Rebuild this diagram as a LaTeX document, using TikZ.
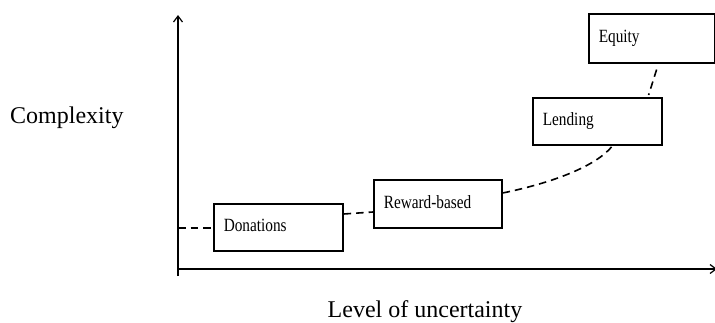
\documentclass[tikz,border=0pt]{standalone}
\usepackage{fontspec}
\setmainfont{Liberation Serif}
\usetikzlibrary{arrows.meta}
\newcommand{\tallbox}[1]{\scalebox{1}[1.22]{#1}}
\begin{document}
\begin{tikzpicture}[x=1pt,y=1pt,
  axis/.style={line width=1.4pt, -{Straight Barb[length=6pt,width=9pt,line width=1.2pt]}},
  stagebox/.style={draw, line width=1.6pt, anchor=north west, minimum height=47pt,
    text width=#1-20pt, minimum width=#1, inner xsep=10pt, align=left,
    font=\fontsize{15.3}{17}\selectfont},
  link/.style={line width=1.6pt, dash pattern=on 7.5pt off 5pt},
  bigtext/.style={font=\fontsize{24}{28}\selectfont, inner sep=0pt}]
\useasboundingbox (0,0) rectangle (715,-322);
% axes
\coordinate (origin) at (178,-276);
\coordinate (ytop) at (178,-15);
\coordinate (xleft) at (177,-269);
\coordinate (xright) at (717,-269);
\draw[axis] (origin) -- (ytop);
\draw[axis] (xleft) -- (xright);
% boxes
\node[stagebox=129pt, minimum height=47pt] (don) at (213,-203) {\tallbox{Donations}\vphantom{Rg}};
\node[stagebox=128pt, minimum height=48pt] (rew) at (373,-179) {\tallbox{Reward-based}\vphantom{g}\\[6pt]};
\node[stagebox=129pt, minimum height=47pt] (len) at (532,-97) {\tallbox{Lending}\\[4pt]};
\node[stagebox=126pt, minimum height=49pt] (equ) at (588,-13) {\tallbox{Equity}\\[8pt]};
% axis labels
\node[bigtext, anchor=base west] (cx) at (10,-123) {Complexity};
\node[bigtext, anchor=base] (lu) at (425,-317) {Level of uncertainty};
% dashed connectors
\coordinate (ystart) at (178,-228);
\draw[link] (ystart) -- (don.west |- ystart);
\draw[link] ([yshift=-11pt]don.north east) -- ([yshift=-33pt]rew.north west);
\draw[link] ([yshift=-14pt]rew.north east) .. controls (552,-183) and (597,-166) .. ([xshift=-50pt]len.south east);
\draw[link] ([xshift=-59pt,yshift=-6pt]equ.south east) -- ([xshift=-14pt,yshift=2pt]len.north east);
\end{tikzpicture}
\end{document}
